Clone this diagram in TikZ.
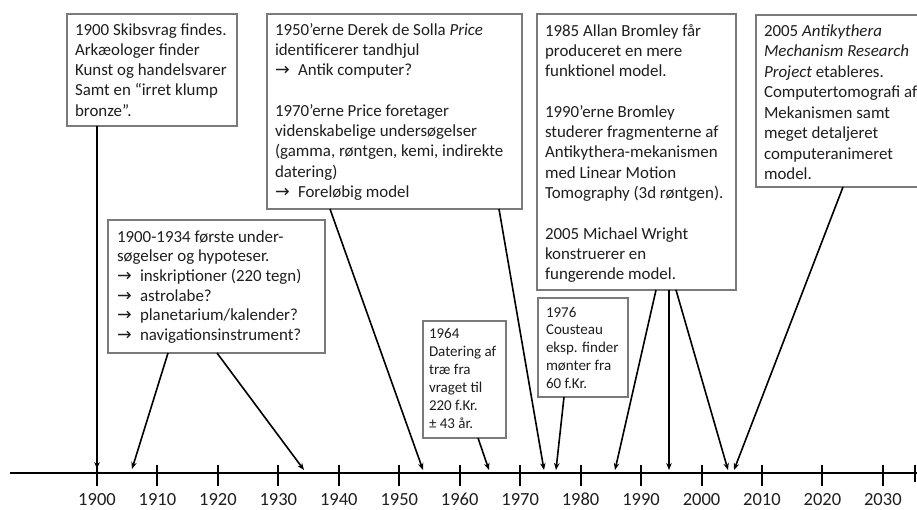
\documentclass[tikz,border=0pt]{standalone}
\usepackage{fontspec}
\setmainfont{Carlito}
\newfontfamily\arrowfont{DejaVu Sans}
\usetikzlibrary{arrows.meta}
\definecolor{boxgray}{HTML}{7A7A7A}
\definecolor{txtcol}{HTML}{1E1E1E}
\newcommand\arr{\makebox[23pt][l]{\fontsize{17.5}{17.5}\selectfont\arrowfont →}}
\begin{document}
\begin{tikzpicture}[x=1pt,y=-1pt,
  box/.style={draw=boxgray, line width=1.3pt, inner sep=0pt, outer sep=0pt, anchor=north west, fill=white},
  txt/.style={anchor=north west, inner sep=0pt, outer sep=0pt, align=left, text=txtcol, font=\fontsize{16.9}{20.3}\selectfont},
  stxt/.style={txt, font=\fontsize{15}{18}\selectfont},
  conn/.style={line width=1.6pt, -{Stealth[length=7pt,width=5.5pt]}},
  axisline/.style={line width=2.2pt},
  tickline/.style={line width=2pt},
  yearlbl/.style={anchor=base, inner sep=0pt, text=txtcol, font=\fontsize{18.5}{20}\selectfont}]
\useasboundingbox (0,0) rectangle (917,509);
\clip (0,0) rectangle (917,509);
\fill[white] (0,0) rectangle (917,509);

% axis
\coordinate (axL) at (10,473);
\coordinate (axR) at (917,473);
\draw[axisline] (axL) -- (axR);
\foreach \i in {0,...,13}{
  \pgfmathsetmacro\xx{97+60.45*\i}
  \pgfmathtruncatemacro\yr{1900+10*\i}
  \draw[tickline] (\xx,465) -- (\xx,486);
  \node[yearlbl] (y\yr) at (\xx,505.5) {\yr};
}
\draw[tickline] (915,465) -- (915,482);

% boxes
\node[box, minimum width=170pt, minimum height=112pt] (b1) at (67,14) {};
\node[box, minimum width=255pt, minimum height=195pt] (b2) at (267,14) {};
\node[box, minimum width=217pt, minimum height=133pt] (b3) at (108,220) {};
\node[box, minimum width=83pt, minimum height=117pt] (b4) at (423,321) {};
\node[box, minimum width=90pt, minimum height=99pt] (b5) at (538,298) {};
\node[box, minimum width=199pt, minimum height=276pt] (b6) at (537,14) {};
\node[box, minimum width=174pt, minimum height=172pt] (b7) at (756,15) {};

% texts
\node[txt] (t1) at (75,21.5) {\rule{0pt}{13.5pt}1900 Skibsvrag findes.\\Arkæologer finder\\Kunst og handelsvarer\\Samt en “irret klump\\bronze”.};
\node[txt] (t2) at (275,21.5) {\rule{0pt}{13.5pt}1950’erne Derek de Solla \textit{Price}\\identificerer tandhjul\\\arr Antik computer?\\[20.3pt]1970’erne Price foretager\\videnskabelige undersøgelser\\(gamma, røntgen, kemi, indirekte\\datering)\\\arr Foreløbig model};
\node[txt, font=\fontsize{16.9}{19.7}\selectfont] (t3) at (117,228.5) {\rule{0pt}{13.5pt}1900-1934 første under-\\søgelser og hypoteser.\\\arr inskriptioner (220 tegn)\\\arr astrolabe?\\\arr planetarium/kalender?\\\arr navigationsinstrument?};
\node[stxt] (t4) at (429,326) {\rule{0pt}{12pt}1964\\Datering af\\træ fra\\vraget til\\220 f.Kr.\\± 43 år.};
\node[stxt, font=\fontsize{15}{17.8}\selectfont] (t5) at (546,305) {\rule{0pt}{12pt}1976\\Cousteau\\eksp. finder\\mønter fra\\60 f.Kr.};
\node[txt] (t6) at (545,22.5) {\rule{0pt}{13.5pt}1985 Allan Bromley får\\produceret en mere\\funktionel model.\\[20.3pt]1990’erne Bromley\\studerer fragmenterne af\\Antikythera-mekanismen\\med Linear Motion\\Tomography (3d røntgen).\\[20.3pt]2005 Michael Wright\\konstruerer en\\fungerende model.};
\node[txt, font=\fontsize{16.9}{20.5}\selectfont] (t7) at (764,22.5) {\rule{0pt}{13.5pt}2005 \textit{Antikythera}\\\textit{Mechanism Research}\\\textit{Project} etableres.\\Computertomografi af\\Mekanismen samt\\meget detaljeret\\computeranimeret\\model.};

% arrow tips on the axis
\coordinate (p1900) at (97,469);
\coordinate (p1906) at (132,469);
\coordinate (p1934) at (304,470);
\coordinate (p1954) at (423,470);
\coordinate (p1974) at (544,470);
\coordinate (p1965) at (489,470);
\coordinate (p1976) at (556,470);
\coordinate (p1985) at (615,470);
\coordinate (p1995) at (669,470);
\coordinate (p2004) at (728,470);
\coordinate (p2005) at (734,470);

% connectors
\draw[conn] (b1.south west)++(30,0) -- (p1900);
\draw[conn] (b3.south west)++(60,0) -- (p1906);
\draw[conn] (b3.south west)++(109,0) -- (p1934);
\draw[conn] (b2.south west)++(63,0) -- (p1954);
\draw[conn] (b2.south west)++(232,0) -- (p1974);
\draw[conn] (b4.south west)++(55,0) -- (p1965);
\draw[conn] (b5.south west)++(26,0) -- (p1976);
\draw[conn] (b6.south west)++(119,0) -- (p1985);
\draw[conn] (b6.south west)++(132,0) -- (p1995);
\draw[conn] (b6.south west)++(139,0) -- (p2004);
\draw[conn] (b7.south west)++(87,0) -- (p2005);
\end{tikzpicture}
\end{document}
